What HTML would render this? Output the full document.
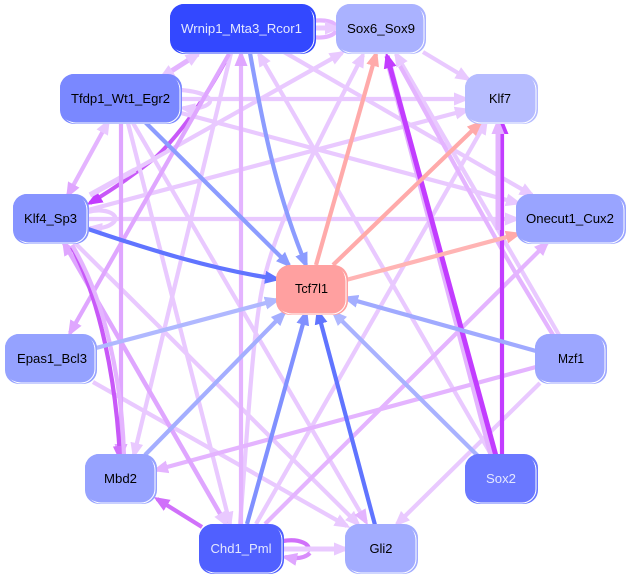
<!DOCTYPE html>
<html><head><meta charset="utf-8">
<style>
html,body{margin:0;padding:0;background:#fff}
svg{display:block}
text{font-family:"Liberation Sans",sans-serif;font-size:13px;text-anchor:middle;fill:#000}
text.w{fill:#e4e8ff}
.e{fill:none}
</style></head><body>
<svg width="632" height="578" viewBox="0 0 632 578" xmlns="http://www.w3.org/2000/svg" stroke-width="4.2">
<defs>
<marker id="a" markerUnits="userSpaceOnUse" markerWidth="16" markerHeight="16" refX="12" refY="8" orient="auto-start-reverse" viewBox="0 0 16 16"><path d="M0 1.500L16 8L0 14.500Z" fill="#e9c9ff"/></marker>
<marker id="b" markerUnits="userSpaceOnUse" markerWidth="16" markerHeight="16" refX="12" refY="8" orient="auto-start-reverse" viewBox="0 0 16 16"><path d="M0 1.500L16 8L0 14.500Z" fill="#e4b4ff"/></marker>
<marker id="c" markerUnits="userSpaceOnUse" markerWidth="16" markerHeight="16" refX="12" refY="8" orient="auto-start-reverse" viewBox="0 0 16 16"><path d="M0 1.500L16 8L0 14.500Z" fill="#dfa6ff"/></marker>
<marker id="d" markerUnits="userSpaceOnUse" markerWidth="16" markerHeight="16" refX="12" refY="8" orient="auto-start-reverse" viewBox="0 0 16 16"><path d="M0 1.500L16 8L0 14.500Z" fill="#d070fa"/></marker>
<marker id="p" markerUnits="userSpaceOnUse" markerWidth="16" markerHeight="16" refX="12" refY="8" orient="auto-start-reverse" viewBox="0 0 16 16"><path d="M0 1.500L16 8L0 14.500Z" fill="#c23cff"/></marker>
<marker id="s" markerUnits="userSpaceOnUse" markerWidth="16" markerHeight="16" refX="12" refY="8" orient="auto-start-reverse" viewBox="0 0 16 16"><path d="M0 1.500L16 8L0 14.500Z" fill="#ffaaaa"/></marker>
<marker id="f1" markerUnits="userSpaceOnUse" markerWidth="16" markerHeight="16" refX="12" refY="8" orient="auto" viewBox="0 0 16 16"><path d="M0 1.500L16 8L0 14.500Z" fill="#8c9cff"/></marker>
<marker id="f2" markerUnits="userSpaceOnUse" markerWidth="16" markerHeight="16" refX="12" refY="8" orient="auto" viewBox="0 0 16 16"><path d="M0 1.500L16 8L0 14.500Z" fill="#6074ff"/></marker>
<marker id="f3" markerUnits="userSpaceOnUse" markerWidth="16" markerHeight="16" refX="12" refY="8" orient="auto" viewBox="0 0 16 16"><path d="M0 1.500L16 8L0 14.500Z" fill="#a4aeff"/></marker>
<marker id="f4" markerUnits="userSpaceOnUse" markerWidth="16" markerHeight="16" refX="12" refY="8" orient="auto" viewBox="0 0 16 16"><path d="M0 1.500L16 8L0 14.500Z" fill="#b0b8ff"/></marker>
<marker id="f5" markerUnits="userSpaceOnUse" markerWidth="16" markerHeight="16" refX="12" refY="8" orient="auto" viewBox="0 0 16 16"><path d="M0 1.500L16 8L0 14.500Z" fill="#8090ff"/></marker>
</defs>

<!-- purple curve beneath the light edges -->
<path class="e" stroke="#c858f8" stroke-width="4" d="M225,62Q190,125 155,158Q125,182 90,203" marker-end="url(#p)"/>

<!-- light edges -->
<g>
<path class="e" stroke="#e9c9ff" d="M181,99L466,99" marker-end="url(#a)"/>
<path class="e" stroke="#e9c9ff" d="M88,210L467,110" marker-end="url(#a)"/>
<path class="e" stroke="#e9c9ff" d="M181,113L518,203" marker-end="url(#a)"/>
<path class="e" stroke="#e9c9ff" d="M88,219L517,219" marker-end="url(#a)"/>
<path class="e" stroke="#e9c9ff" d="M90,195L342,53" marker-end="url(#a)"/>
<path class="e" stroke="#e9c9ff" d="M423,52L468,79" marker-end="url(#a)"/>
<path class="e" stroke="#e9c9ff" d="M284,52L532,195" marker-end="url(#a)"/>
<path class="e" stroke="#e9c9ff" d="M492,456L259,54" marker-end="url(#a)"/>
<path class="e" stroke="#e9c9ff" d="M256,524L486,122" marker-end="url(#a)"/>
<path class="e" stroke="#e9c9ff" d="M540,383L397,524" marker-end="url(#a)"/>
<path class="e" stroke="#e9c9ff" d="M93,382L347,526" marker-end="url(#a)"/>
<path class="e" stroke="#e9c9ff" d="M75,243L358,524" marker-end="url(#a)"/>
<path class="e" stroke="#e9c9ff" d="M128,123L230,524" marker-end="url(#a)"/>
<path class="e" stroke="#e9c9ff" d="M231,53L134,455" marker-end="url(#a)"/>
<path class="e" stroke="#e9c9ff" d="M240,524C247,440 252,340 262,289C275,220 330,120 363,55" marker-end="url(#a)"/>
<path class="e" stroke="#e9c9ff" d="M559,335L396,54" marker-end="url(#a)"/>
<path class="e" stroke="#e4b4ff" d="M553,335L515,272C490,230 430,120 400,66"/>
<path class="e" stroke="#e9c9ff" d="M133,123L366,522" marker-end="url(#b)"/>
<path class="e" stroke="#e4b4ff" d="M265,524L547,243" marker-end="url(#b)"/>
<path class="e" stroke="#e4b4ff" d="M536,367L156,470" marker-end="url(#b)"/>
<path class="e" stroke="#e4b4ff" stroke-width="5" d="M198,54L162,77" marker-end="url(#a)" marker-start="url(#a)"/>
<path class="e" stroke="#e4b4ff" d="M108,122L68,195" marker-end="url(#c)" marker-start="url(#a)"/>
<path class="e" stroke="#e9c9ff" stroke-width="5.500" d="M90,195L135,170"/>
<!-- self loops -->
<path class="e" stroke="#e9c9ff" d="M181,90C205,92 218,100 205,106C198,109 190,109 183,108" marker-end="url(#a)"/>
<path class="e" stroke="#e9c9ff" d="M88,212C106,207 120,215 114,222C108,228 98,229 90,228" marker-end="url(#a)"/>
<path class="e" stroke="#e4b4ff" d="M312,21C326,19 334,22 336,26"/>
<path class="e" stroke="#e4b4ff" d="M312,37C326,39 334,35 336,31"/>
<path class="e" stroke="#e9c9ff" stroke-width="5" d="M314,28L337,28" marker-end="url(#a)"/>
</g>

<!-- mid purple -->
<path class="e" stroke="#dfa6ff" d="M121,123L121,456" marker-end="url(#c)"/>
<path class="e" stroke="#dfa6ff" d="M229,54L70,333" marker-end="url(#c)"/>
<path class="e" stroke="#e4b4ff" d="M241,525L241,54" marker-end="url(#c)"/>
<path class="e" stroke="#dfa6ff" stroke-width="4.500" d="M64,243L226,524" marker-start="url(#c)" marker-end="url(#a)"/>
<path class="e" stroke="#c858f8" d="M72,247C100,300 116,380 120,458" marker-end="url(#d)"/>
<path class="e" stroke="#e4b4ff" d="M72,245C105,300 122,380 124,456"/>
<path class="e" stroke="#d070fa" d="M202,527L157,499" marker-end="url(#d)"/>
<path class="e" stroke="#d070fa" d="M283,541C300,538 312,545 308,551"/>
<path class="e" stroke="#d88cfb" d="M310,553C304,559 295,559 285,557" marker-end="url(#c)"/>
<path class="e" stroke="#e9c9ff" stroke-width="5" d="M283,549L346,549" marker-end="url(#a)"/>

<!-- strong purple -->
<path class="e" stroke="#e4b4ff" stroke-width="6.500" d="M492,456L388,60"/>
<path class="e" stroke="#c23cff" stroke-width="5" d="M496,456L387,56" marker-end="url(#p)"/>
<path d="M487,456l14,-2l2,10l-14,2Z" fill="#e4b4ff"/>
<path class="e" stroke="#c23cff" d="M502,456L502,122" marker-end="url(#p)"/>
<path class="e" stroke="#e4b4ff" stroke-width="5" d="M498,230L498,122" marker-end="url(#b)"/>

<!-- blue -->
<path class="e" stroke="#8c9cff" d="M250,53C262,120 275,190 306,265" marker-end="url(#f1)"/>
<path class="e" stroke="#8c9cff" d="M145,122L289,265" marker-end="url(#f1)"/>
<path class="e" stroke="#6074ff" d="M88,229C150,250 215,270 277,279" marker-end="url(#f2)"/>
<path class="e" stroke="#b0b8ff" d="M96,348L277,300" marker-end="url(#f4)"/>
<path class="e" stroke="#a4aeff" d="M145,455L284,313" marker-end="url(#f3)"/>
<path class="e" stroke="#8090ff" d="M247,524L306,313" marker-end="url(#f5)"/>
<path class="e" stroke="#6074ff" d="M375,525L318,312" marker-end="url(#f2)"/>
<path class="e" stroke="#a9b2ff" d="M478,456L334,313" marker-end="url(#f4)"/>
<path class="e" stroke="#a0aaff" d="M536,351L346,298" marker-end="url(#f3)"/>

<!-- salmon -->
<path class="e" stroke="#ffaaaa" d="M316,265L376,54" marker-end="url(#s)"/>
<path class="e" stroke="#ffaaaa" d="M333,265L480,123" marker-end="url(#s)"/>
<path class="e" stroke="#ffb4b4" d="M346,280L518,234" marker-end="url(#s)"/>

<!-- nodes -->
<g stroke-width="1">
<rect x="170" y="4" width="146" height="50" rx="14" fill="#3348ff"/><rect x="172" y="6" width="142" height="47" rx="14" fill="none" stroke="#fff"/><rect x="170" y="4" width="143" height="48" rx="14" fill="#3348ff"/>
<text class="w" x="241.500" y="33" textLength="121" lengthAdjust="spacingAndGlyphs">Wrnip1_Mta3_Rcor1</text>

<rect x="336" y="4" width="90" height="50" rx="14" fill="#aab2ff"/><rect x="338" y="6" width="86" height="47" rx="14" fill="none" stroke="#fff"/><rect x="336" y="4" width="87" height="48" rx="14" fill="#aab2ff"/>
<text x="381" y="33" textLength="68" lengthAdjust="spacingAndGlyphs">Sox6_Sox9</text>

<rect x="465" y="74" width="73" height="50" rx="14" fill="#b6bcff"/><rect x="467" y="76" width="69" height="47" rx="14" fill="none" stroke="#fff"/><rect x="465" y="74" width="70" height="48" rx="14" fill="#b6bcff"/>
<text x="500" y="103" textLength="22" lengthAdjust="spacingAndGlyphs">Klf7</text>

<rect x="60" y="74" width="122" height="50" rx="14" fill="#7a88ff"/><rect x="62" y="76" width="118" height="47" rx="14" fill="none" stroke="#fff"/><rect x="60" y="74" width="119" height="48" rx="14" fill="#7a88ff"/>
<text x="120.500" y="103" textLength="99" lengthAdjust="spacingAndGlyphs">Tfdp1_Wt1_Egr2</text>

<rect x="516" y="194" width="110" height="50" rx="14" fill="#99a4ff"/><rect x="518" y="196" width="106" height="47" rx="14" fill="none" stroke="#fff"/><rect x="516" y="194" width="107" height="48" rx="14" fill="#99a4ff"/>
<text x="570" y="223" textLength="88" lengthAdjust="spacingAndGlyphs">Onecut1_Cux2</text>

<rect x="13" y="194" width="76" height="50" rx="14" fill="#8794ff"/><rect x="15" y="196" width="72" height="47" rx="14" fill="none" stroke="#fff"/><rect x="13" y="194" width="73" height="48" rx="14" fill="#8794ff"/>
<text x="50.500" y="223" textLength="53" lengthAdjust="spacingAndGlyphs">Klf4_Sp3</text>

<rect x="276" y="265" width="72" height="50" rx="14" fill="#ffa0a0"/><rect x="278" y="267" width="68" height="47" rx="14" fill="none" stroke="#fff"/><rect x="276" y="265" width="69" height="48" rx="14" fill="#ffa0a0"/>
<text x="311.500" y="293" textLength="33" lengthAdjust="spacingAndGlyphs">Tcf7l1</text>

<rect x="5" y="334" width="92" height="50" rx="14" fill="#95a2ff"/><rect x="7" y="336" width="88" height="47" rx="14" fill="none" stroke="#fff"/><rect x="5" y="334" width="89" height="48" rx="14" fill="#95a2ff"/>
<text x="52" y="363" textLength="70" lengthAdjust="spacingAndGlyphs">Epas1_Bcl3</text>

<rect x="535" y="334" width="72" height="50" rx="14" fill="#9ca6ff"/><rect x="537" y="336" width="68" height="47" rx="14" fill="none" stroke="#fff"/><rect x="535" y="334" width="69" height="48" rx="14" fill="#9ca6ff"/>
<text x="571" y="363" textLength="26" lengthAdjust="spacingAndGlyphs">Mzf1</text>

<rect x="85" y="454" width="72" height="50" rx="14" fill="#96a2ff"/><rect x="87" y="456" width="68" height="47" rx="14" fill="none" stroke="#fff"/><rect x="85" y="454" width="69" height="48" rx="14" fill="#96a2ff"/>
<text x="120.500" y="483" textLength="33" lengthAdjust="spacingAndGlyphs">Mbd2</text>

<rect x="465" y="454" width="73" height="50" rx="14" fill="#6a78ff"/><rect x="467" y="456" width="69" height="47" rx="14" fill="none" stroke="#fff"/><rect x="465" y="454" width="70" height="48" rx="14" fill="#6a78ff"/>
<text class="w" x="501" y="483" textLength="30" lengthAdjust="spacingAndGlyphs">Sox2</text>

<rect x="199" y="524" width="85" height="50" rx="14" fill="#5060ff"/><rect x="201" y="526" width="81" height="47" rx="14" fill="none" stroke="#fff"/><rect x="199" y="524" width="82" height="48" rx="14" fill="#5060ff"/>
<text class="w" x="241" y="553" textLength="61" lengthAdjust="spacingAndGlyphs">Chd1_Pml</text>

<rect x="345" y="524" width="73" height="50" rx="14" fill="#a2acff"/><rect x="347" y="526" width="69" height="47" rx="14" fill="none" stroke="#fff"/><rect x="345" y="524" width="70" height="48" rx="14" fill="#a2acff"/>
<text x="381" y="553" textLength="23" lengthAdjust="spacingAndGlyphs">Gli2</text>
</g>
</svg>
</body></html>
